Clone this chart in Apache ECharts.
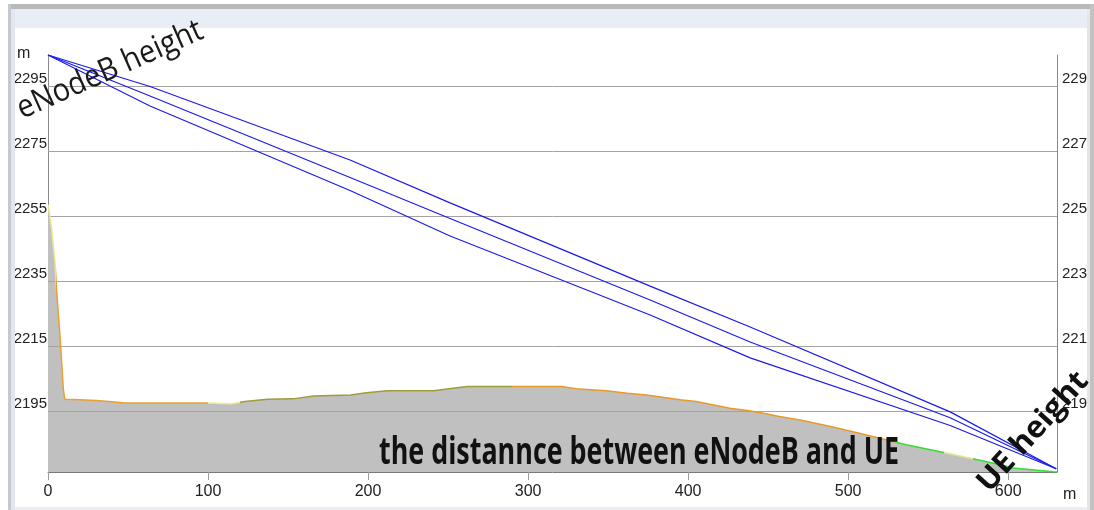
<!DOCTYPE html>
<html><head><meta charset="utf-8">
<script src="https://cdn.jsdelivr.net/npm/echarts@6/dist/echarts.min.js"></script>
<style>html,body{margin:0;padding:0;background:#fff}#c{width:1094px;height:510px}</style>
</head><body><div id="c"></div>
<script>
// ---- data ----
const xTicks = [0, 100, 200, 300, 400, 500, 600];
const yTicks = [2195, 2215, 2235, 2255, 2275, 2295];
const terrainDist = [0, 2, 4.4, 5.4, 7.5, 9.6, 10.5, 20, 30, 40, 48, 70, 90, 103, 114, 123, 137, 153, 166, 189, 199, 212, 241, 253, 262, 291, 321, 332, 349, 362, 374, 395, 405, 416, 426, 437, 447, 457, 470, 489, 507, 537, 562, 591, 603, 628, 630.5];
const terrainHeight = [2258.5, 2252, 2240.5, 2232, 2218, 2201.5, 2198.6, 2198.4, 2198.2, 2197.8, 2197.4, 2197.4, 2197.4, 2197.4, 2197.2, 2197.9, 2198.6, 2198.7, 2199.6, 2199.9, 2200.6, 2201.2, 2201.2, 2202, 2202.5, 2202.5, 2202.5, 2201.7, 2201.2, 2200.4, 2199.9, 2198.4, 2197.9, 2196.8, 2195.8, 2195.1, 2194.3, 2193.3, 2192.2, 2190.2, 2188.1, 2184.5, 2182, 2178.9, 2177.4, 2176.3, 2176.2];
const beamDist = [0, 63.75, 188.75, 251.25, 376.25, 438.75, 563.75, 630];
const beamUpper = [2304.5, 2294.8, 2272.2, 2259.0, 2233.4, 2220.8, 2194.7, 2177.2];
const beamMid = [2304.5, 2291.9, 2266.8, 2254.2, 2229.1, 2216.2, 2192.9, 2177.2];
const beamLower = [2304.5, 2288.8, 2262.8, 2248.8, 2224.5, 2211.3, 2190.5, 2177.2];
const segStart = [0, 5, 100, 120, 290, 530, 560, 578];
const segColor = ['#e6e68c', '#e8a030', '#eeee9a', '#a09c3a', '#e89a28', '#33dd33', '#e0e890', '#33dd33'];
const texts = { tx: 'eNodeB height', ue: 'UE height', dist: 'the distannce between eNodeB and UE', unit: 'm' };

// ---- helpers ----
const zip = (a, b) => a.map((v, i) => [v, b[i]]);
const cv = document.createElement('canvas').getContext('2d');
function fitScale(font, str, target) { cv.font = font; return target / cv.measureText(str).width; }
const pieces = segStart.map((s, i) => ({ gte: s, lt: i + 1 < segStart.length ? segStart[i + 1] : 1000, color: segColor[i] }));

const YMIN = 2176.2, YMAX = 2304.5;
const labelFont = '"Liberation Sans Narrow","Liberation Sans",sans-serif';
const plain = v => String(v);

const fTx = '400 32px "Open Sans"';
const fUe = '700 30px "Open Sans"';
const fDist = '700 37px "Open Sans"';

const chart = echarts.init(document.getElementById('c'), null, { renderer: 'canvas' });
const blue = '#1a1aee';
chart.setOption({
  animation: false,
  backgroundColor: '#ffffff',
  grid: { left: 48, right: 37, top: 55, bottom: 38, containLabel: false, outerBoundsMode: 'none' },
  xAxis: {
    type: 'value', min: 0, max: 630.5,
    axisLine: { lineStyle: { color: '#7a7a7a', width: 1 } },
    axisTick: { show: true, length: 8, lineStyle: { color: '#9a9a9a' }, customValues: xTicks },
    axisLabel: { customValues: xTicks, formatter: plain, color: '#222', fontSize: 16, fontFamily: labelFont, margin: 12 },
    splitLine: { show: false }
  },
  yAxis: [{
    type: 'value', min: YMIN, max: YMAX, position: 'left',
    axisLine: { show: true, lineStyle: { color: '#8a8a8a' } },
    axisTick: { show: false },
    axisLabel: { customValues: yTicks, formatter: plain, color: '#222', fontSize: 15, fontFamily: labelFont, margin: 1, verticalAlign: 'bottom' },
    splitLine: { show: false }
  }, {
    type: 'value', min: YMIN, max: YMAX, position: 'right',
    axisLine: { show: true, lineStyle: { color: '#8a8a8a' } },
    axisTick: { show: false },
    axisLabel: { customValues: yTicks, formatter: plain, color: '#222', fontSize: 15, fontFamily: labelFont, margin: 5, verticalAlign: 'bottom' },
    splitLine: { show: false }
  }],
  visualMap: { type: 'piecewise', show: false, dimension: 0, seriesIndex: 1, pieces: pieces },
  series: [
    {
      type: 'line', data: zip(terrainDist, terrainHeight), symbol: 'none', z: 1,
      lineStyle: { width: 0, opacity: 0 }, areaStyle: { color: '#c0c0c0', opacity: 1, origin: 'start' },
      markLine: {
        silent: true, symbol: 'none', label: { show: false }, z: 3,
        lineStyle: { color: '#a3a3a3', width: 1, type: 'solid' },
        data: yTicks.map(v => ({ yAxis: v }))
      }
    },
    { type: 'line', data: zip(terrainDist, terrainHeight), symbol: 'none', z: 4, lineStyle: { width: 1.5 } },
    { type: 'line', data: zip(beamDist, beamUpper), symbol: 'none', z: 5, lineStyle: { color: blue, width: 1.2 } },
    { type: 'line', data: zip(beamDist, beamMid), symbol: 'none', z: 5, lineStyle: { color: blue, width: 1.2 } },
    { type: 'line', data: zip(beamDist, beamLower), symbol: 'none', z: 5, lineStyle: { color: blue, width: 1.2 } }
  ],
  graphic: [
    // window frame
    { type: 'rect', z: 100, shape: { x: 8, y: 4, width: 1086, height: 5 }, style: { fill: '#b8b8b8' } },
    { type: 'rect', z: 100, shape: { x: 15, y: 9, width: 1073, height: 19 }, style: { fill: '#e9edf6' } },
    { type: 'rect', z: 100, shape: { x: 8, y: 4, width: 3, height: 506 }, style: { fill: '#c4c8d0' } },
    { type: 'rect', z: 100, shape: { x: 11, y: 9, width: 4, height: 501 }, style: { fill: '#e2e6ee' } },
    { type: 'rect', z: 100, shape: { x: 1087, y: 9, width: 3, height: 501 }, style: { fill: '#e4e6ea' } },
    { type: 'rect', z: 100, shape: { x: 1090, y: 4, width: 4, height: 506 }, style: { fill: '#c2c2c2' } },
    { type: 'rect', z: 100, shape: { x: 15, y: 507, width: 1072, height: 3 }, style: { fill: '#eceef2' } },
    // unit labels
    { type: 'text', z: 50, x: 17, y: 46, style: { text: texts.unit, font: '16px ' + labelFont, fill: '#222' } },
    { type: 'text', z: 50, x: 1063, y: 487, style: { text: texts.unit, font: '16px ' + labelFont, fill: '#222' } },
    // annotations
    { type: 'text', z: 160, x: 110, y: 70, rotation: 24 * Math.PI / 180, scaleX: fitScale(fTx, texts.tx, 200),
      style: { text: texts.tx, font: fTx, fill: '#1a1a1a', align: 'center', verticalAlign: 'middle' } },
    { type: 'text', z: 160, x: 1033, y: 432, rotation: 48 * Math.PI / 180, scaleX: fitScale(fUe, texts.ue, 150),
      style: { text: texts.ue, font: fUe, fill: '#111', align: 'center', verticalAlign: 'middle' } },
    { type: 'text', z: 60, x: 639, y: 453, scaleX: fitScale(fDist, texts.dist, 520),
      style: { text: texts.dist, font: fDist, fill: '#111', align: 'center', verticalAlign: 'middle' } }
  ]
});
</script></body></html>
